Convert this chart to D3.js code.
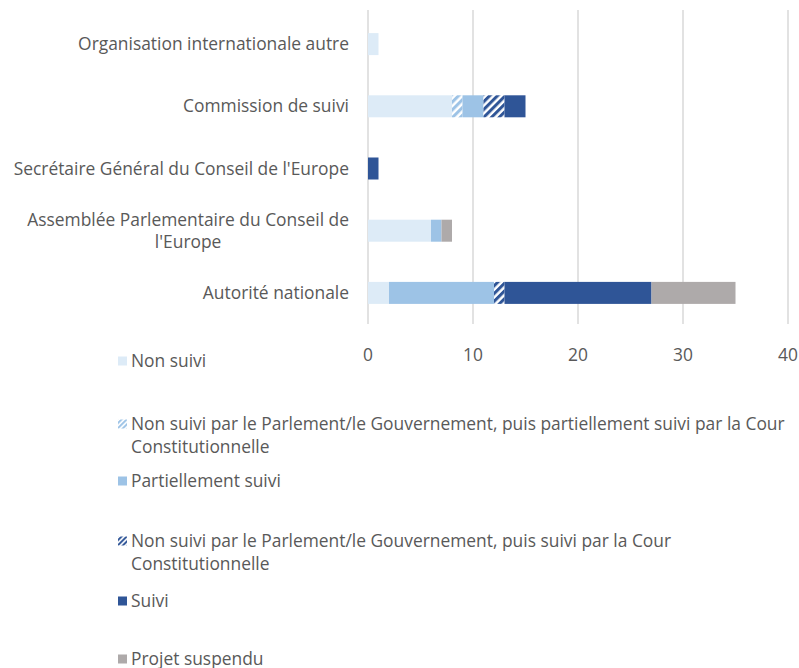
<!DOCTYPE html>
<html>
<head>
<meta charset="utf-8">
<script src="https://cdn.jsdelivr.net/npm/d3@7"></script>
<style>
  body { margin: 0; background: #fff; }
  svg text { font-family: "Open Sans", sans-serif; fill: #595959; }
</style>
</head>
<body>
<div id="chart"></div>
<script>
// categories, top to bottom
var categories = [
  "Organisation internationale autre",
  "Commission de suivi",
  "Secrétaire Général du Conseil de l'Europe",
  "Assemblée Parlementaire du Conseil de l'Europe",
  "Autorité nationale"
];
var categoryLines = [
  ["Organisation internationale autre"],
  ["Commission de suivi"],
  ["Secrétaire Général du Conseil de l'Europe"],
  ["Assemblée Parlementaire du Conseil de", "l'Europe"],
  ["Autorité nationale"]
];
var seriesNames = [
  "Non suivi",
  "Non suivi par le Parlement/le Gouvernement, puis partiellement suivi par la Cour Constitutionnelle",
  "Partiellement suivi",
  "Non suivi par le Parlement/le Gouvernement, puis suivi par la Cour Constitutionnelle",
  "Suivi",
  "Projet suspendu"
];
var nonSuivi       = [1, 8, 0, 6, 2];
var nonSuiviPartCC = [0, 1, 0, 0, 0];
var partiellement  = [0, 2, 0, 1, 10];
var nonSuiviCC     = [0, 2, 0, 0, 1];
var suivi          = [0, 2, 1, 0, 14];
var suspendu       = [0, 0, 0, 1, 8];
var xTicks = [0, 10, 20, 30, 40];

var seriesValues = [nonSuivi, nonSuiviPartCC, partiellement, nonSuiviCC, suivi, suspendu];
var fills = ["#DDEBF7", "url(#hatchLight)", "#9DC3E6", "url(#hatchDark)", "#2F5597", "#AEAAAA"];
var legendFills = ["#DDEBF7", "url(#hatchLightS)", "#9DC3E6", "url(#hatchDarkS)", "#2F5597", "#AEAAAA"];

var width = 799, height = 668;
var fs = "17.4px";
var svg = d3.select("#chart").append("svg")
  .attr("width", width).attr("height", height);

var defs = svg.append("defs");
function hatch(id, color, size) {
  var p = defs.append("pattern")
    .attr("id", id).attr("patternUnits", "userSpaceOnUse")
    .attr("width", size).attr("height", size)
    .attr("patternTransform", "rotate(45)");
  p.append("rect").attr("width", size).attr("height", size).attr("fill", "#fff");
  p.append("rect").attr("width", size * 0.55).attr("height", size).attr("fill", color);
}
hatch("hatchLight", "#9DC3E6", 5.5);
hatch("hatchDark", "#2F5597", 5.5);
hatch("hatchLightS", "#9DC3E6", 3.6);
hatch("hatchDarkS", "#2F5597", 3.6);

var x = d3.scaleLinear().domain([0, 40]).range([368, 788]);
var y = d3.scalePoint().domain(categories).range([13, 324]).padding(0.5);
var barH = 22;

// gridlines
svg.append("g")
  .selectAll("line")
  .data(xTicks)
  .enter().append("line")
  .attr("x1", function(d) { return x(d); })
  .attr("x2", function(d) { return x(d); })
  .attr("y1", 10).attr("y2", 324)
  .attr("stroke", "#D9D9D9").attr("stroke-width", 1.5);

// tick labels
svg.append("g")
  .selectAll("text")
  .data(xTicks)
  .enter().append("text")
  .attr("x", function(d) { return x(d); })
  .attr("y", 361)
  .attr("text-anchor", "middle")
  .style("font-size", fs)
  .text(function(d) { return d; });

// stacked bars
var table = categories.map(function(c, i) {
  var row = { group: c };
  seriesNames.forEach(function(s, j) { row[s] = seriesValues[j][i]; });
  return row;
});
var stacked = d3.stack().keys(seriesNames)(table);

svg.append("g")
  .selectAll("g")
  .data(stacked)
  .enter().append("g")
  .attr("fill", function(d, i) { return fills[i]; })
  .selectAll("rect")
  .data(function(d) { return d; })
  .enter().append("rect")
  .attr("x", function(d) { return x(d[0]); })
  .attr("y", function(d) { return y(d.data.group) - barH / 2; })
  .attr("height", barH)
  .attr("width", function(d) { return x(d[1]) - x(d[0]); });

// category labels
var lbl = svg.append("g");
categories.forEach(function(c, i) {
  var lines = categoryLines[i];
  var t = lbl.append("text")
    .attr("text-anchor", "end")
    .style("font-size", fs);
  var cy = y(c);
  var lh = 22;
  var y0 = cy - (lines.length - 1) * lh / 2 + 6;
  lines.forEach(function(l, k) {
    t.append("tspan").attr("x", 349).attr("y", y0 + k * lh).text(l);
  });
  if (lines.length > 1) {
    // centre the shorter lines under the longest one
    var spans = t.selectAll("tspan").nodes();
    var wMax = d3.max(spans, function(s) { return s.getComputedTextLength(); });
    spans.forEach(function(s) {
      var w = s.getComputedTextLength();
      d3.select(s).attr("x", 349 - (wMax - w) / 2);
    });
  }
});

// legend
var legendRows = [
  { lines: ["Non suivi"], y: 361 },
  { lines: ["Non suivi par le Parlement/le Gouvernement, puis partiellement suivi par la Cour", "Constitutionnelle"], y: 424 },
  { lines: ["Partiellement suivi"], y: 481 },
  { lines: ["Non suivi par le Parlement/le Gouvernement, puis suivi par la Cour", "Constitutionnelle"], y: 541 },
  { lines: ["Suivi"], y: 601 },
  { lines: ["Projet suspendu"], y: 659 }
];
var lg = svg.append("g");
legendRows.forEach(function(r, i) {
  lg.append("rect")
    .attr("x", 118).attr("y", r.y - 4.5)
    .attr("width", 9).attr("height", 9)
    .attr("fill", legendFills[i]);
  var t = lg.append("text").style("font-size", fs);
  r.lines.forEach(function(l, k) {
    t.append("tspan").attr("x", 131).attr("y", r.y + 6 + k * 22.5).text(l);
  });
});
</script>
</body>
</html>
